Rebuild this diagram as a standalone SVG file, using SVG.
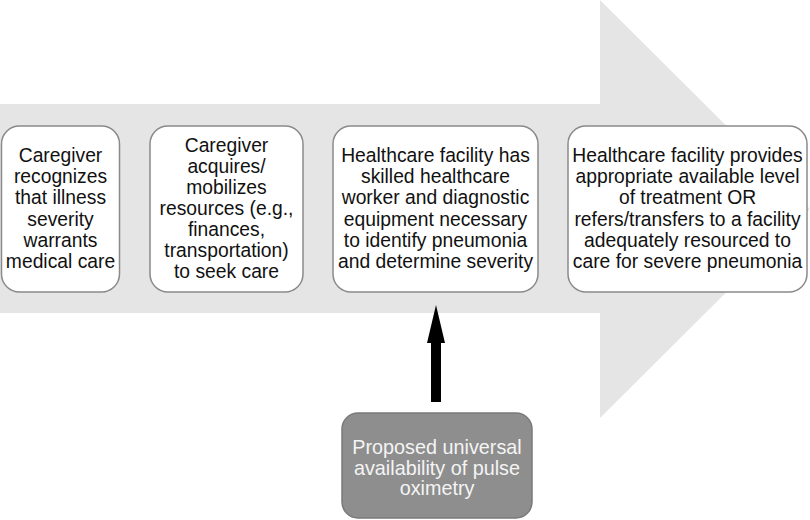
<svg xmlns="http://www.w3.org/2000/svg" width="810" height="520" viewBox="0 0 810 520">
<style>
.box{fill:#ffffff;stroke:#8a8a8a;stroke-width:1.5}
.gbox{fill:#8e8e8e;stroke:#7a7a7a;stroke-width:1.5}
.t{font-family:"Liberation Sans",Arial,sans-serif;font-size:19.3px;fill:#111;text-anchor:middle}
.tw{font-family:"Liberation Sans",Arial,sans-serif;font-size:19.8px;fill:#f4f4f4;text-anchor:middle}
</style>
<rect width="810" height="520" fill="#ffffff"/>
<g id="flow">
<polygon points="0,104 600,104 600,0 810,209 600,418 600,313 0,313" fill="#e5e5e5"/>
</g>
<g id="box1">
<rect class="box" x="1.5" y="126" width="118" height="166" rx="18"/>
<text class="t"><tspan x="60.5" y="162">Caregiver</tspan><tspan x="60.5" y="183.2">recognizes</tspan><tspan x="60.5" y="204.4">that illness</tspan><tspan x="60.5" y="225.6">severity</tspan><tspan x="60.5" y="246.8">warrants</tspan><tspan x="60.5" y="268">medical care</tspan></text>
</g>
<g id="box2">
<rect class="box" x="150" y="126" width="153" height="166" rx="18"/>
<text class="t"><tspan x="226.5" y="152">Caregiver</tspan><tspan x="226.5" y="173">acquires/</tspan><tspan x="226.5" y="194">mobilizes</tspan><tspan x="226.5" y="215">resources (e.g.,</tspan><tspan x="226.5" y="236">finances,</tspan><tspan x="226.5" y="257">transportation)</tspan><tspan x="226.5" y="278">to seek care</tspan></text>
</g>
<g id="box3">
<rect class="box" x="333" y="126" width="205" height="166" rx="18"/>
<text class="t"><tspan x="435.5" y="162">Healthcare facility has</tspan><tspan x="435.5" y="183.2">skilled healthcare</tspan><tspan x="435.5" y="204.4">worker and diagnostic</tspan><tspan x="435.5" y="225.6">equipment necessary</tspan><tspan x="435.5" y="246.8">to identify pneumonia</tspan><tspan x="435.5" y="268">and determine severity</tspan></text>
</g>
<g id="box4">
<rect class="box" x="568" y="126" width="239" height="166" rx="18"/>
<text class="t"><tspan x="687.5" y="162">Healthcare facility provides</tspan><tspan x="687.5" y="183.2">appropriate available level</tspan><tspan x="687.5" y="204.4">of treatment OR</tspan><tspan x="687.5" y="225.6">refers/transfers to a facility</tspan><tspan x="687.5" y="246.8">adequately resourced to</tspan><tspan x="687.5" y="268">care for severe pneumonia</tspan></text>
</g>
<g id="box5">
<rect class="gbox" x="342" y="413" width="190" height="105" rx="16"/>
<text class="tw"><tspan x="437" y="454">Proposed universal</tspan><tspan x="437" y="474.5">availability of pulse</tspan><tspan x="437" y="495">oximetry</tspan></text>
</g>
<g id="connectors">
<polygon points="436,305 445,343 441,343 441,402 431,402 431,343 427,343" fill="#000000"/>
</g>
</svg>
